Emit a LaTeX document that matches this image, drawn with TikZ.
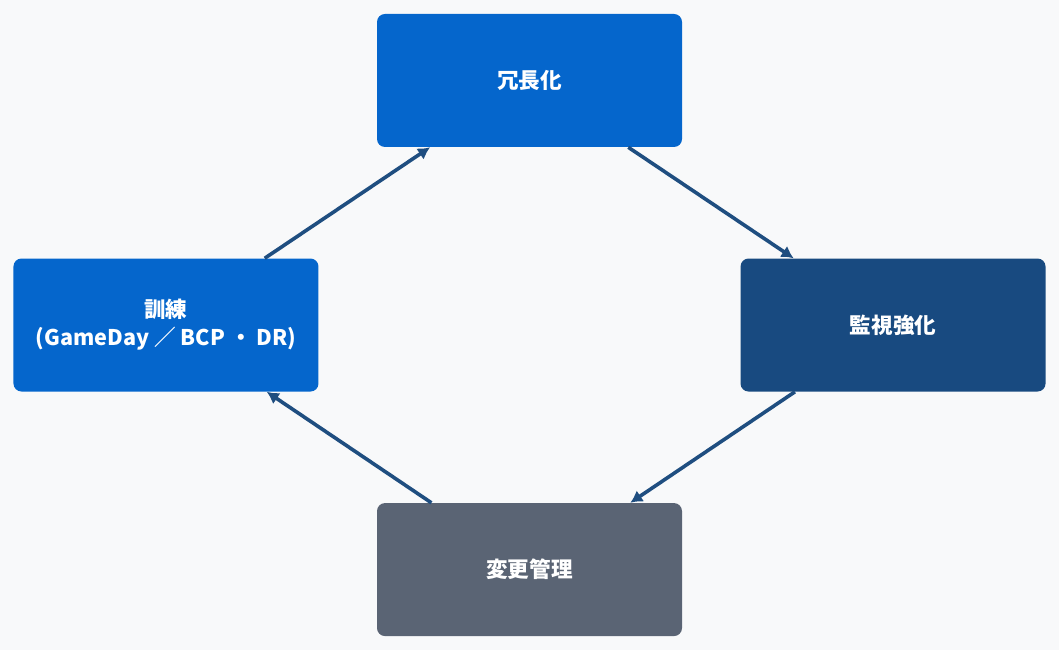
\documentclass[tikz,border=0pt]{standalone}
\usepackage{fontspec}
\setmainfont{Noto Sans CJK JP}
\usetikzlibrary{arrows.meta,positioning}
\definecolor{bgcol}{HTML}{F8F9FA}
\definecolor{bluebox}{HTML}{0566CC}
\definecolor{darkbox}{HTML}{184A80}
\definecolor{greybox}{HTML}{5A6474}
\definecolor{arrowcol}{HTML}{1F4E80}
\tikzset{%
  >={Latex[width=10pt,length=9pt]},
  % Specifications for style of nodes:
            base/.style = {rectangle, rounded corners=6pt, draw=none,
                           minimum width=228.75pt, minimum height=99.75pt,
                           text centered, text=white, fill=bluebox,
                           font=\fontsize{16.2}{21}\selectfont\bfseries},
           dark/.style = {base, fill=darkbox},
           grey/.style = {base, fill=greybox},
           link/.style = {->, draw=arrowcol, line width=2.7pt}
}
\begin{document}
\begin{tikzpicture}[node distance=83.25pt and 43.5pt, align=center]

  % Background and margins
  \fill[bgcol] (0pt,0pt) rectangle (794.25pt,487.5pt);

  % Specification of nodes (position, etc.)
  \node (redundancy) [base] at (397.125pt,427.125pt) {冗長化};
  \node (training)   [base, below left=of redundancy]  {訓練\\(GameDay ／ BCP ・ DR)};
  \node (monitoring) [dark, below right=of redundancy] {監視強化};
  \node (change)     [grey, below right=of training]   {変更管理};

  % Specification of lines between nodes specified above
  \draw[link] ([xshift=-40.5pt]training.north east) -- ([xshift=40pt]redundancy.south west);
  \draw[link] ([xshift=-40.5pt]redundancy.south east) -- ([xshift=40pt]monitoring.north west);
  \draw[link] ([xshift=41pt]monitoring.south west) -- ([xshift=-39pt]change.north east);
  \draw[link] ([xshift=41pt]change.north west) -- ([xshift=-39pt]training.south east);
\end{tikzpicture}
\end{document}
